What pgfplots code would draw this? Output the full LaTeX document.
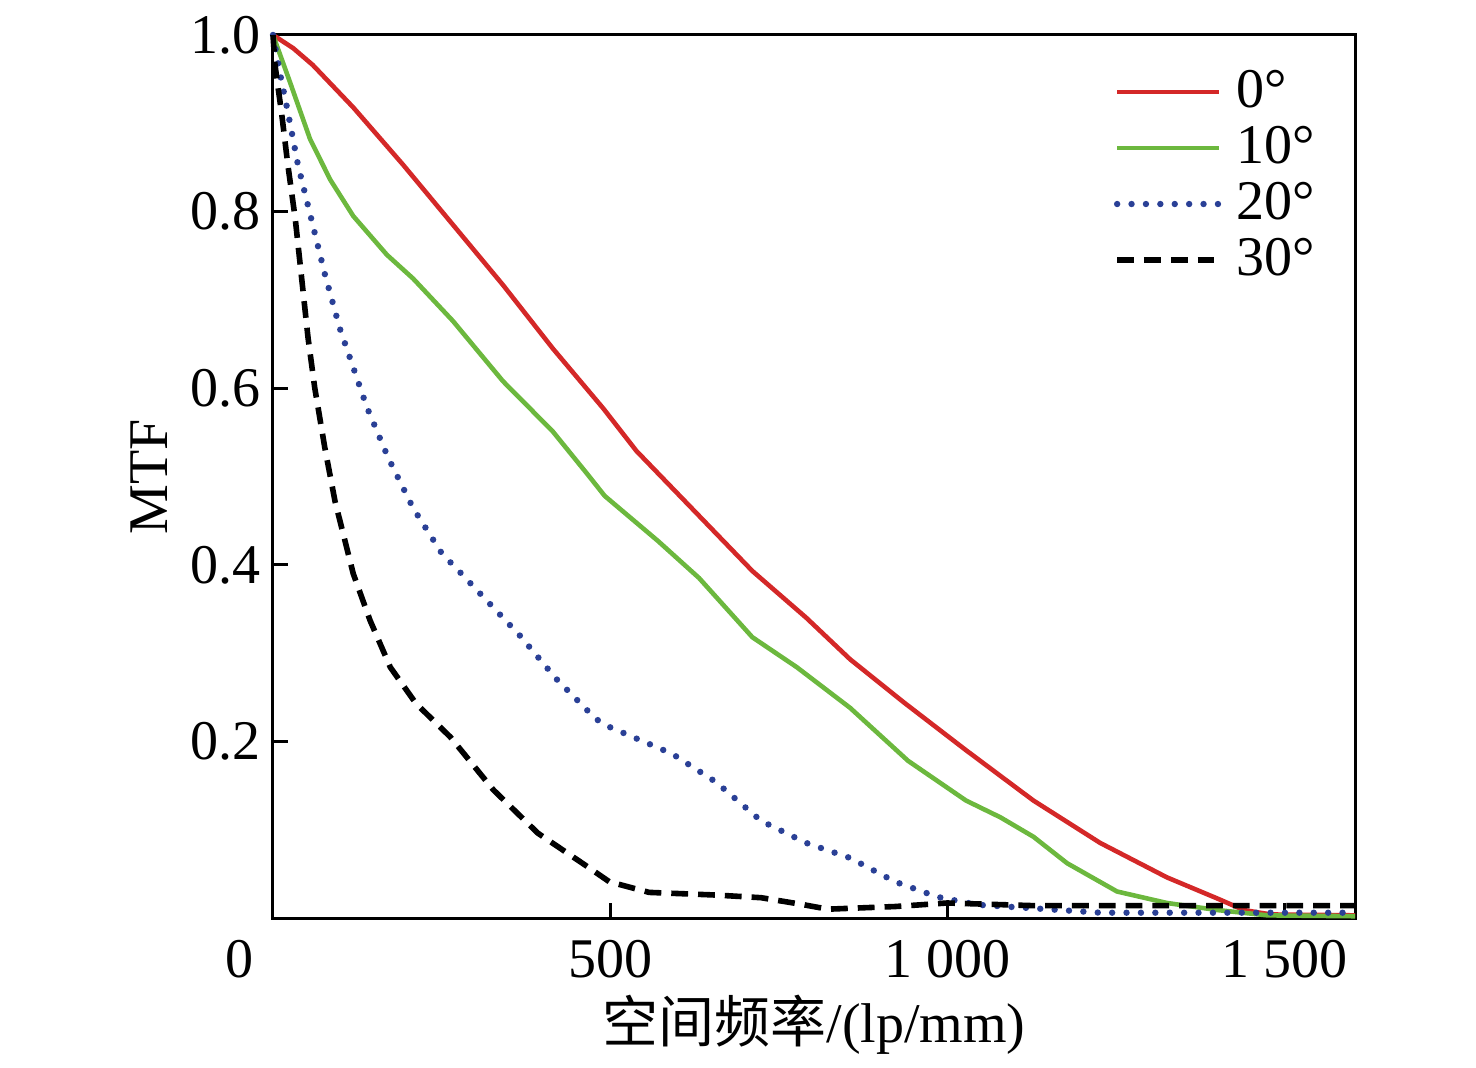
\documentclass[border=0pt]{standalone}
\usepackage{fontspec}
\setmainfont{Liberation Serif}
\newfontfamily\cjk{Noto Sans CJK SC}
\usepackage{pgfplots}
\pgfplotsset{compat=1.18}
\definecolor{cred}{RGB}{212,40,40}
\definecolor{cgreen}{RGB}{108,184,62}
\definecolor{cblue}{RGB}{42,64,150}
\begin{document}
\begin{tikzpicture}
\begin{axis}[
  scale only axis, width=270.5pt, height=220.75pt,
  xmin=0, xmax=1605, ymin=0, ymax=1,
  clip=false,
  axis line style={line width=0.75pt, black},
  tick align=inside, xtick pos=bottom, ytick pos=left,
  major tick length=3.75pt,
  tick style={line width=0.75pt, black},
  xtick={500,1000,1500}, xticklabels={500,1\ 000,1\ 500},
  ytick={0.2,0.4,0.6,0.8,1.0}, yticklabels={0.2,0.4,0.6,0.8,1.0},
  extra x ticks={0}, extra x tick labels={0},
  extra x tick style={major tick length=0pt, xticklabel style={xshift=-8.25pt}},
  tick label style={font=\fontsize{14}{16.8}\selectfont},
  xticklabel style={yshift=-2pt},
  yticklabel style={xshift=0.5pt},
  label style={font=\fontsize{14}{16.8}\selectfont},
  xlabel={{\cjk 空间频率}/(lp/mm)}, ylabel={MTF},
  xlabel style={at={(axis description cs:0.5,-0.121)}, anchor=center},
  ylabel style={at={(axis description cs:-0.114,0.5)}, anchor=center},
  legend style={draw=none, fill=none, at={(0.982,0.979)}, anchor=north east,
    font=\fontsize{14}{16.8}\selectfont, row sep=-0.8pt},
  legend cell align=left,
  legend image code/.code={\draw[#1] (0pt,0pt) -- (25.5pt,0pt); \path (27pt,0pt);},
]
\addplot[cred, line width=1.15pt] coordinates {
(0,1.0) (30,0.985) (59,0.966) (119,0.918) (193,0.853) (267,0.785) (341,0.717) (415,0.645)
(490,0.577) (539,0.529) (625,0.461) (711,0.393) (791,0.340) (856,0.293)
(936,0.244) (1028,0.19) (1128,0.133) (1227,0.085) (1326,0.046) (1401,0.022)
(1440,0.009) (1480,0.004) (1605,0.003)};
\addlegendentry{0°}
\addplot[cgreen, line width=1.15pt] coordinates {
(0,1.0) (25,0.947) (55,0.882) (85,0.836) (119,0.795) (169,0.751) (208,0.724)
(267,0.676) (341,0.608) (415,0.551) (466,0.503) (492,0.478) (571,0.427)
(632,0.385) (711,0.318) (777,0.284) (856,0.238) (942,0.178) (1028,0.133)
(1079,0.114) (1128,0.092) (1178,0.062) (1252,0.03) (1326,0.017) (1401,0.009)
(1475,0.003) (1605,0.002)};
\addlegendentry{10°}
\addplot[cblue, line width=1.6pt, line cap=round, dash pattern=on 0pt off 3.6pt] coordinates {
(0,1.0) (10,0.958) (22,0.913) (37,0.853) (57,0.791) (77,0.729) (99,0.668)
(126,0.608) (139,0.579) (171,0.521) (208,0.464) (252,0.411) (267,0.4)
(309,0.366) (366,0.32) (420,0.271) (478,0.226) (494,0.218) (592,0.186)
(657,0.154) (724,0.11) (791,0.085) (856,0.068) (923,0.041) (985,0.024)
(1044,0.015) (1128,0.011) (1227,0.006) (1605,0.006)};
\addlegendentry{20°}
\addplot[black, line width=1.4pt, dash pattern=on 4.2pt off 2.5pt] coordinates {
(0,1.0) (3,0.966) (13,0.91) (22,0.853) (33,0.792) (43,0.721) (52,0.657)
(62,0.6) (77,0.532) (92,0.472) (119,0.39) (144,0.337) (174,0.284) (212,0.243)
(263,0.205) (327,0.145) (393,0.096) (459,0.062) (499,0.041) (558,0.029)
(657,0.026) (724,0.023) (780,0.016) (823,0.01) (923,0.013) (1000,0.017)
(1128,0.014) (1605,0.014)};
\addlegendentry{30°}
\path (rel axis cs:-0.2523,-0.1665) rectangle (rel axis cs:1.1118,1.0396);
\end{axis}
\end{tikzpicture}
\end{document}
